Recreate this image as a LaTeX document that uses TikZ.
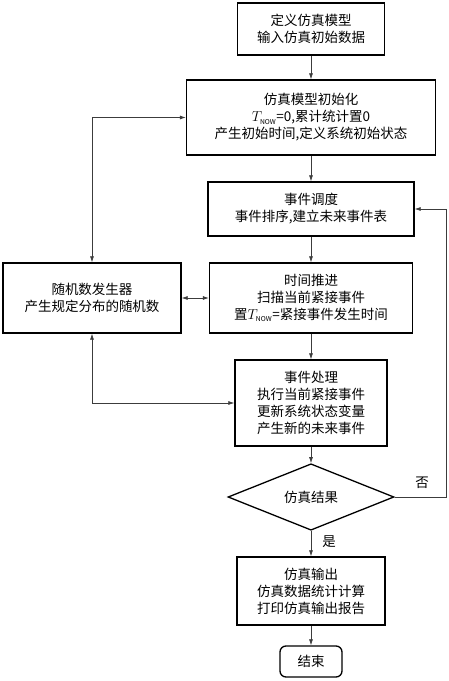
\documentclass[tikz,border=0pt]{standalone}
\usepackage{fontspec}
\setmainfont{Noto Sans CJK SC}
\usetikzlibrary{shapes.geometric,arrows.meta}
\begin{document}
\begin{tikzpicture}[x=1pt,y=-1pt,
  box/.style={draw=black,line width=1.3pt,align=center,inner sep=0pt,
    font=\fontsize{13.5}{17}\selectfont},
  decide/.style={diamond,draw=black,line width=1.3pt,inner sep=0pt,
    minimum width=166pt,minimum height=66pt,font=\fontsize{13.5}{17}\selectfont},
  stopbox/.style={box,rounded corners=6pt},
  label/.style={inner sep=0pt,font=\fontsize{13.5}{17}\selectfont},
  flow/.style={draw=lineColor,line width=0.7pt,-{Latex[length=6pt,width=4pt]}},
  twoway/.style={draw=lineColor,line width=0.7pt,{Latex[length=6pt,width=4pt]}-{Latex[length=6pt,width=4pt]}}]
\definecolor{lineColor}{RGB}{60,60,60}
\path[use as bounding box,fill=white] (0,0) rectangle (448,681);

% main column
\node[box,minimum width=147pt,minimum height=52pt] (define) at (311,29) {定义仿真模型\\输入仿真初始数据};
\node[box,minimum width=249pt,minimum height=75pt] (init) at (311,117.5) {仿真模型初始化\\$T_{\mathrm{\scriptscriptstyle NOW}}$=0,累计统计置0\\产生初始时间,定义系统初始状态};
\node[box,minimum width=206pt,minimum height=54pt] (schedule) at (311,209) {事件调度\\事件排序,建立未来事件表};
\node[box,minimum width=203pt,minimum height=70pt] (advance) at (311,298) {时间推进\\扫描当前紧接事件\\置$T_{\mathrm{\scriptscriptstyle NOW}}$=紧接事件发生时间};
\node[box,minimum width=152pt,minimum height=86pt] (handle) at (311,403) {事件处理\\执行当前紧接事件\\更新系统状态变量\\产生新的未来事件};
\node[decide] (result) at (311,497) {仿真结果};
\node[box,minimum width=148pt,minimum height=68pt] (output) at (311,591) {仿真输出\\仿真数据统计计算\\打印仿真输出报告};
\node[stopbox,minimum width=62pt,minimum height=31pt] (finish) at (311,661.5) {结束};

% random numbers
\node[box,minimum width=178pt,minimum height=70pt] (random) at (92,298) {随机数发生器\\产生规定分布的随机数};

% connectors
\draw[flow] (define) -- (init);
\draw[flow] (init) -- (schedule);
\draw[flow] (schedule) -- (advance);
\draw[flow] (advance) -- (handle);
\draw[flow] (handle) -- (result);
\draw[flow] (result) -- (output);
\draw[flow] (output) -- (finish);

\draw[twoway] (random.north) |- (init.west);
\draw[twoway] (random.east) -- (advance.west);
\draw[twoway] (random.south) |- (handle.west);

\coordinate (loop) at (446,497);
\draw[flow] (result.east) -- (loop) |- (schedule.east);

\node[label] (no) at (422,483) {否};
\node[label] (yes) at (329,542) {是};
\end{tikzpicture}
\end{document}
